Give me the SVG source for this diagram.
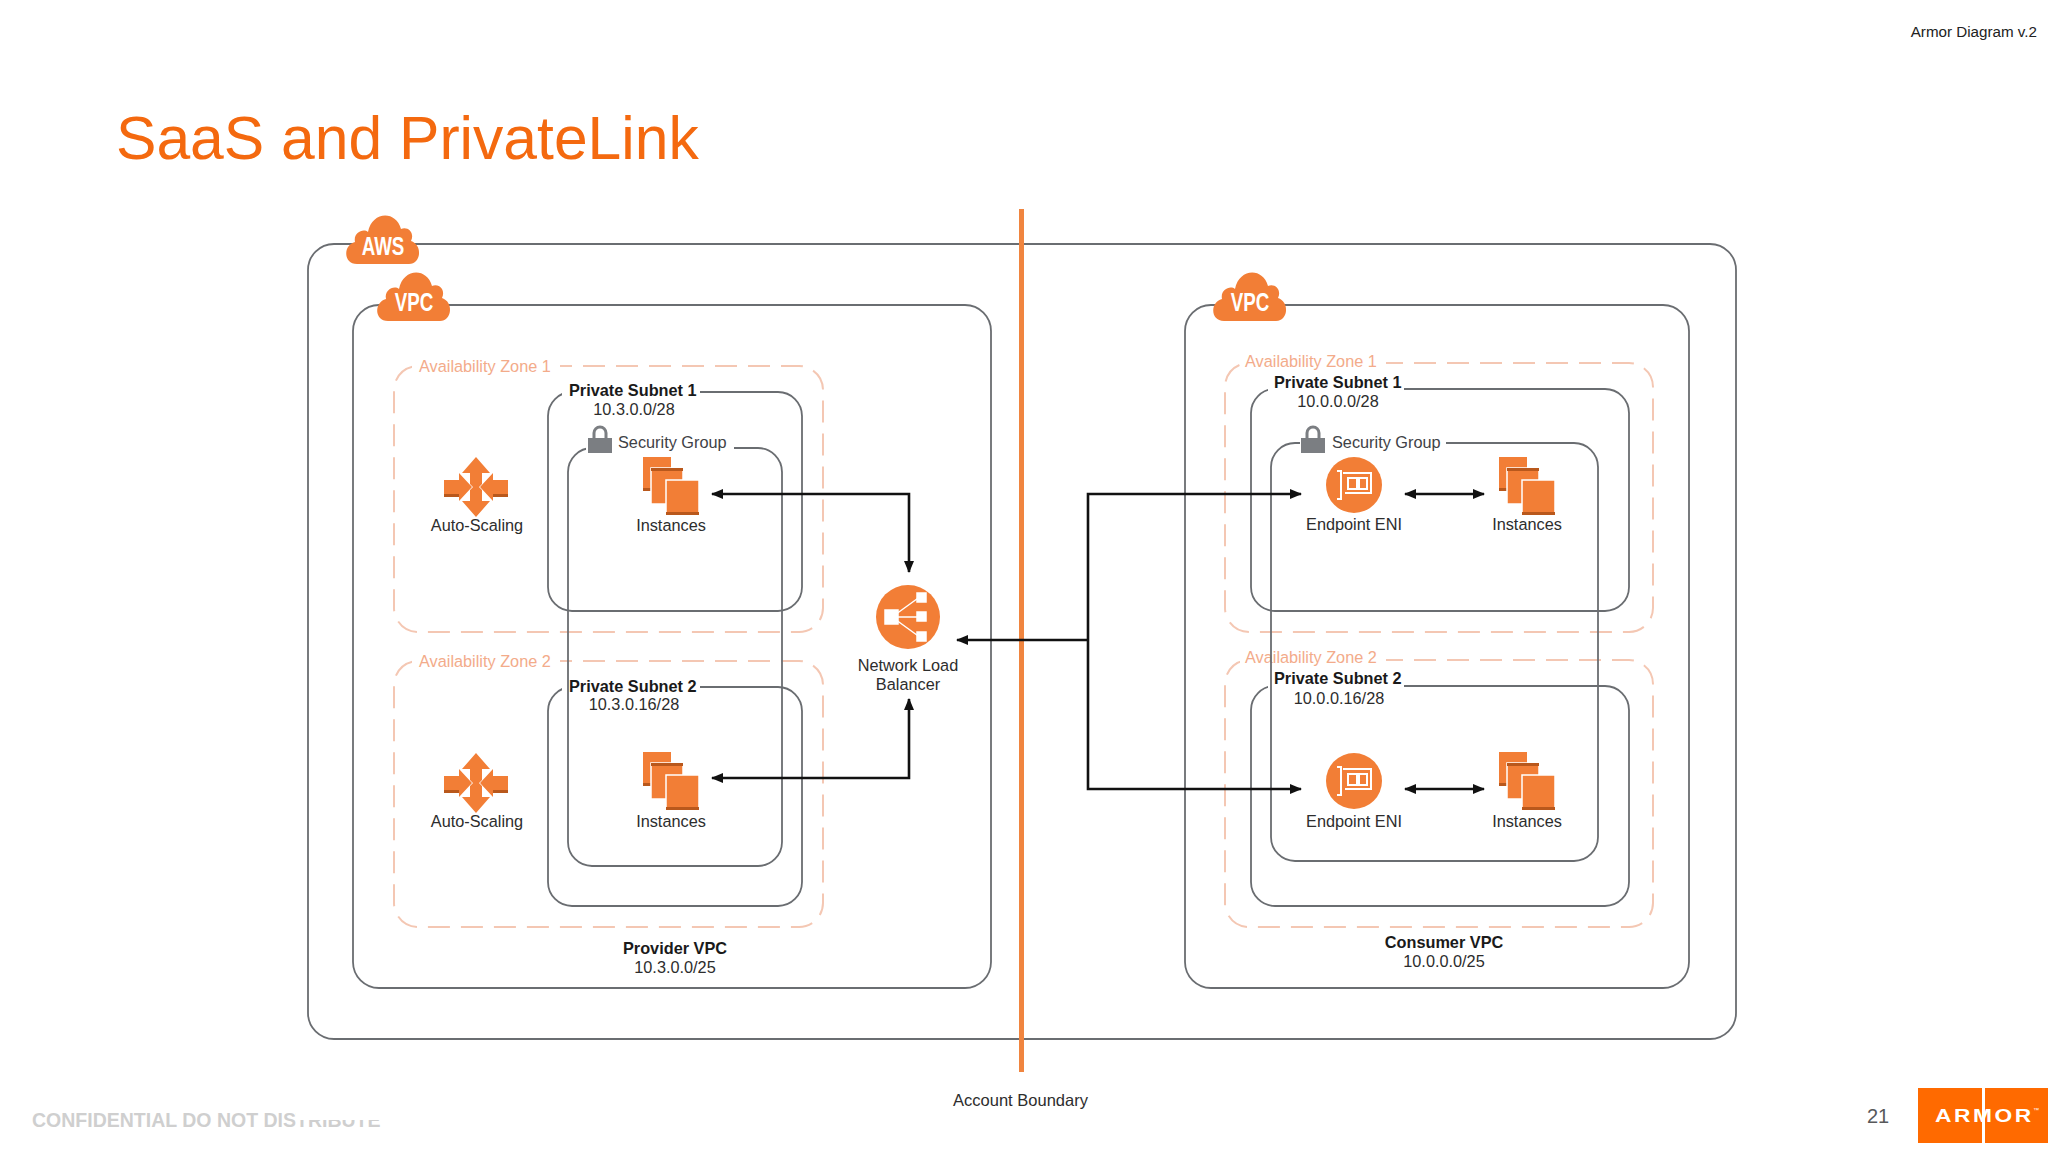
<svg xmlns="http://www.w3.org/2000/svg" xmlns:xlink="http://www.w3.org/1999/xlink" width="2048" height="1161" viewBox="0 0 2048 1161">
<style>
text{font-family:"Liberation Sans",Arial,sans-serif;fill:#2d2d2d;font-size:16.3px}
.c{text-anchor:middle}
.b{font-weight:bold;fill:#1a1a1a}
.box{fill:none;stroke:#6a6d71;stroke-width:1.8}
.az{fill:none;stroke:#f4c7b3;stroke-width:2;stroke-dasharray:22 11}
.azt{fill:#f3ab8a}
.sgt{fill:#3f4246}
.mask{fill:#fff}
.wire{fill:none;stroke:#111;stroke-width:2.6}
.o{fill:#f27e36}
.od{fill:#b9581c}
.cl{font-weight:bold;fill:#fff;font-size:25px;text-anchor:middle}
</style>
<defs>
<marker id="ah" viewBox="0 0 12 10" refX="11" refY="5" markerWidth="12" markerHeight="10" markerUnits="userSpaceOnUse" orient="auto-start-reverse"><path d="M0 0L12 5L0 10z" fill="#111"/></marker>
<path id="cloud" class="o" d="M-26 25C-40 25 -40 6 -28 3C-30 -6 -20 -11 -15 -7C-11 -28 13 -29 18 -10C25 -13 32 -6 28 2C40 6 38 25 26 25Z"/>
<g id="inst">
<rect class="o" x="0" y="0" width="28" height="34"/><rect class="od" x="0" y="31" width="28" height="3"/>
<rect x="8" y="11" width="32" height="36" class="o" stroke="#fff" stroke-width="1.5"/><rect class="od" x="8" y="11" width="32" height="3"/>
<rect x="23" y="23" width="33" height="35" class="o" stroke="#fff" stroke-width="1.5"/><rect class="od" x="23" y="55" width="33" height="3"/>
</g>
<g id="scale" class="o">
<path d="M0 -30L14 -14L6 -14L6 -3L0 3L-6 -3L-6 -14L-14 -14Z"/>
<path d="M0 30L14 14L6 14L6 3L0 -3L-6 3L-6 14L-14 14Z"/>
<path d="M-32 -7L-17 -7L-17 -14L-4 0L-17 14L-17 7L-32 7Z"/>
<path d="M32 -7L17 -7L17 -14L4 0L17 14L17 7L32 7Z"/>
<path class="od" d="M-32 7L-17 7L-17 10L-32 10ZM32 7L17 7L17 10L32 10Z"/>
</g>
<g id="lock"><path d="M-6 -3V-8A6 6 0 0 1 6 -8V-3" fill="none" stroke="#7b7e82" stroke-width="3"/><rect x="-12" y="-3" width="24" height="15" fill="#7b7e82"/></g>
<g id="eni"><circle r="28" class="o"/><path d="M-17 -14h4v28h-4M-11 -12h28v20h-26M-6 -7h9v11h-9zM5 -7h8v11h-8z" fill="none" stroke="#fff" stroke-width="2"/></g>
</defs>
<rect width="2048" height="1161" fill="#fff"/>

<g id="header">
<text x="2037" y="37" text-anchor="end" style="font-size:15.2px;fill:#222">Armor Diagram v.2</text>
<text x="116" y="159" style="font-size:60.600px;fill:#f4690f">SaaS and PrivateLink</text>
</g>

<g id="aws"><rect class="box" x="308" y="244" width="1428" height="795" rx="26"/><use xlink:href="#cloud" href="#cloud" x="383" y="239"/><text class="cl" transform="translate(383 255) scale(.75 1)">AWS</text></g>

<g id="provider-vpc"><rect class="box" x="353" y="305" width="638" height="683" rx="26"/><use xlink:href="#cloud" href="#cloud" x="414" y="296"/><text class="cl" transform="translate(414 311) scale(.75 1)">VPC</text>
<text class="c b" x="675" y="954">Provider VPC</text><text class="c" x="675" y="973">10.3.0.0/25</text></g>

<g id="consumer-vpc"><rect class="box" x="1185" y="305" width="504" height="683" rx="26"/><use xlink:href="#cloud" href="#cloud" x="1250" y="296"/><text class="cl" transform="translate(1250 311) scale(.75 1)">VPC</text>
<text class="c b" x="1444" y="948">Consumer VPC</text><text class="c" x="1444" y="967">10.0.0.0/25</text></g>

<g id="p-az1"><rect class="az" x="394" y="366" width="429" height="266" rx="24"/><rect class="mask" x="412" y="355" width="148" height="22"/><text class="azt" x="419" y="372">Availability Zone 1</text></g>
<g id="p-az2"><rect class="az" x="394" y="661" width="429" height="266" rx="24"/><rect class="mask" x="412" y="650" width="148" height="22"/><text class="azt" x="419" y="667">Availability Zone 2</text></g>
<g id="c-az1"><rect class="az" x="1225" y="363" width="428" height="269" rx="24"/><rect class="mask" x="1240" y="352" width="146" height="22"/><text class="azt" x="1245" y="367">Availability Zone 1</text></g>
<g id="c-az2"><rect class="az" x="1225" y="660" width="428" height="267" rx="24"/><rect class="mask" x="1240" y="649" width="146" height="22"/><text class="azt" x="1245" y="663">Availability Zone 2</text></g>

<g id="p-subnet1"><rect class="box" x="548" y="392" width="254" height="219" rx="24"/><rect class="mask" x="562" y="382" width="138" height="20"/><text class="b" x="569" y="396">Private Subnet 1</text><text class="c" x="634" y="415">10.3.0.0/28</text></g>
<g id="p-subnet2"><rect class="box" x="548" y="687" width="254" height="219" rx="24"/><rect class="mask" x="562" y="677" width="138" height="20"/><text class="b" x="569" y="692">Private Subnet 2</text><text class="c" x="634" y="710">10.3.0.16/28</text></g>
<g id="c-subnet1"><rect class="box" x="1251" y="389" width="378" height="222" rx="24"/><rect class="mask" x="1268" y="379" width="136" height="20"/><text class="b" x="1274" y="388">Private Subnet 1</text><text class="c" x="1338" y="407">10.0.0.0/28</text></g>
<g id="c-subnet2"><rect class="box" x="1251" y="686" width="378" height="220" rx="24"/><rect class="mask" x="1268" y="676" width="136" height="20"/><text class="b" x="1274" y="684">Private Subnet 2</text><text class="c" x="1339" y="704">10.0.0.16/28</text></g>

<g id="p-sg"><rect class="box" x="568" y="448" width="214" height="418" rx="24"/><rect class="mask" x="586" y="436" width="148" height="24"/><use xlink:href="#lock" href="#lock" x="600" y="441"/><text class="sgt" x="618" y="448">Security Group</text></g>
<g id="c-sg"><rect class="box" x="1271" y="443" width="327" height="418" rx="24"/><rect class="mask" x="1300" y="432" width="146" height="24"/><use xlink:href="#lock" href="#lock" x="1313" y="441"/><text class="sgt" x="1332" y="448">Security Group</text></g>

<g id="boundary"><rect x="1019" y="209" width="5" height="863" fill="#f0853f"/><text class="c" x="1020.500" y="1106" style="font-size:16.500px">Account Boundary</text></g>

<g id="connectors">
<path class="wire" marker-start="url(#ah)" marker-end="url(#ah)" d="M712 494H909V572"/>
<path class="wire" marker-start="url(#ah)" marker-end="url(#ah)" d="M712 778H909V699"/>
<path class="wire" stroke-width="2" marker-end="url(#ah)" d="M1087 640H957"/>
<path class="wire" marker-start="url(#ah)" marker-end="url(#ah)" d="M1301 494H1088V789H1301"/>
<path class="wire" marker-start="url(#ah)" marker-end="url(#ah)" d="M1405 494H1484"/>
<path class="wire" marker-start="url(#ah)" marker-end="url(#ah)" d="M1405 789H1484"/>
</g>

<g id="p-scale1"><use xlink:href="#scale" href="#scale" x="476" y="487"/><text class="c" x="477" y="531">Auto-Scaling</text></g>
<g id="p-scale2"><use xlink:href="#scale" href="#scale" x="476" y="783"/><text class="c" x="477" y="827">Auto-Scaling</text></g>
<g id="p-inst1"><use xlink:href="#inst" href="#inst" x="643" y="457"/><text class="c" x="671" y="531">Instances</text></g>
<g id="p-inst2"><use xlink:href="#inst" href="#inst" x="643" y="752"/><text class="c" x="671" y="827">Instances</text></g>
<g id="nlb"><circle cx="908" cy="617" r="32" class="o"/>
<g fill="#fff" stroke="#fff" stroke-width="1.500"><path d="M892 617L921 596M892 617H921M892 617L921 638" fill="none"/><rect x="885" y="610" width="13" height="14"/><rect x="917" y="593" width="9" height="9"/><rect x="917" y="612" width="9" height="9"/><rect x="917" y="632" width="9" height="9"/></g>
<text class="c" x="908" y="671">Network Load</text><text class="c" x="908" y="690">Balancer</text></g>
<g id="c-eni1"><use xlink:href="#eni" href="#eni" x="1354" y="485"/><text class="c" x="1354" y="530">Endpoint ENI</text></g>
<g id="c-eni2"><use xlink:href="#eni" href="#eni" x="1354" y="781"/><text class="c" x="1354" y="827">Endpoint ENI</text></g>
<g id="c-inst1"><use xlink:href="#inst" href="#inst" x="1499" y="457"/><text class="c" x="1527" y="530">Instances</text></g>
<g id="c-inst2"><use xlink:href="#inst" href="#inst" x="1499" y="752"/><text class="c" x="1527" y="827">Instances</text></g>

<g id="footer">
<text x="32" y="1127" style="font-size:19.500px;font-weight:bold;fill:#cfcfcf">CONFIDENTIAL  DO NOT DISTRIBUTE</text>
<rect class="mask" x="296" y="1108" width="90" height="12"/>
<text x="1867" y="1123" style="font-size:20px;fill:#58595b">21</text>
<rect x="1918" y="1088" width="130" height="55" fill="#ff6a00"/>
<rect x="1982" y="1088" width="3" height="55" fill="#fff"/>
<text transform="translate(1935 1122) scale(1.300 1)" textLength="74" lengthAdjust="spacing" style="font-size:17.500px;font-weight:bold;fill:#fff">ARMOR</text>
<text x="2033" y="1112" style="font-size:6px;fill:#fff">™</text>
</g>
</svg>
